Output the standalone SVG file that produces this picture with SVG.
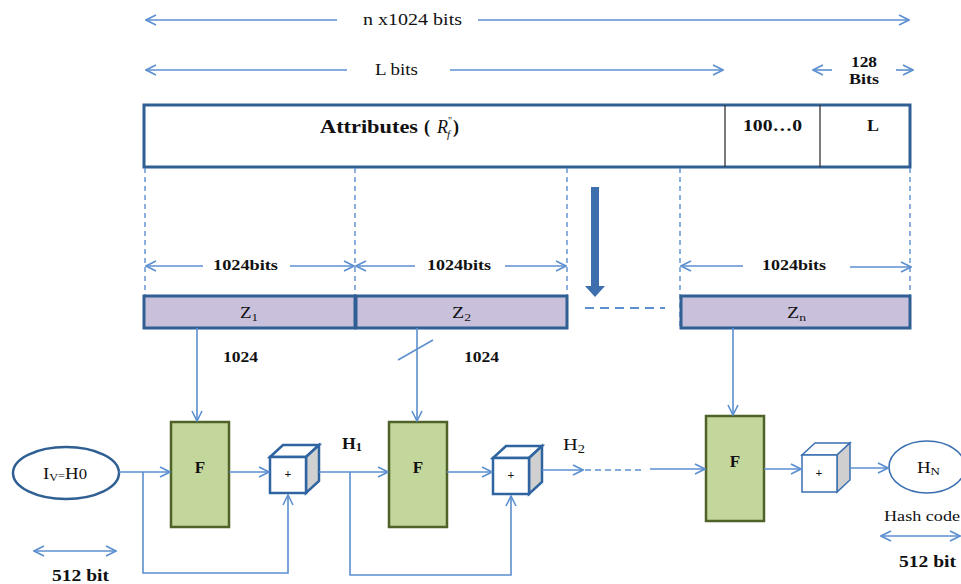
<svg xmlns="http://www.w3.org/2000/svg" width="961" height="584" viewBox="0 0 961 584">
<style>
  text { font-family: "Liberation Serif", "Times New Roman", serif; fill: #111; }
  .b { font-weight: bold; }
  .ln { stroke: #5b8fd0; stroke-width: 1.6; fill: none; }
  .dash { stroke: #5b8fd0; stroke-width: 1.4; fill: none; stroke-dasharray: 5 4; }
  .blk { fill: #c9c0dc; stroke: #2f5f93; stroke-width: 3; }
  .fbox { fill: #c3d69b; stroke: #4f6228; stroke-width: 2.5; }
  .cube { fill: #fff; stroke: #2f64a0; stroke-width: 2.5; }
  .cubeside { fill: #d0d0d0; stroke: #2f64a0; stroke-width: 2.5; }
</style>
<defs>
  <marker id="ah" viewBox="0 0 12 12" refX="11" refY="6" markerWidth="12" markerHeight="12" markerUnits="userSpaceOnUse" orient="auto-start-reverse">
    <path d="M1,1 L11,6 L1,11" fill="none" stroke="#5b8fd0" stroke-width="1.6"/>
  </marker>
</defs>

<!-- size annotations -->
<g id="dims">
  <line class="ln" x1="146" y1="20" x2="337" y2="20" marker-start="url(#ah)"/>
  <line class="ln" x1="478" y1="20" x2="909" y2="20" marker-end="url(#ah)"/>
  <text x="363" y="25" font-size="17" textLength="99" lengthAdjust="spacingAndGlyphs">n x1024 bits</text>
  <line class="ln" x1="146" y1="70" x2="347" y2="70" marker-start="url(#ah)"/>
  <line class="ln" x1="450" y1="70" x2="723" y2="70" marker-end="url(#ah)"/>
  <text x="375" y="75" font-size="17" textLength="43" lengthAdjust="spacingAndGlyphs">L bits</text>
  <line class="ln" x1="813" y1="70" x2="832" y2="70" marker-start="url(#ah)"/>
  <line class="ln" x1="896" y1="70" x2="913" y2="70" marker-end="url(#ah)"/>
  <text class="b" x="851" y="67" font-size="15" textLength="26" lengthAdjust="spacingAndGlyphs">128</text>
  <text class="b" x="849" y="84" font-size="15" textLength="30" lengthAdjust="spacingAndGlyphs">Bits</text>
</g>

<!-- message block -->
<g id="message">
  <rect x="144" y="105" width="766" height="62" fill="#fff" stroke="#2f5f93" stroke-width="3"/>
  <line x1="725" y1="105" x2="725" y2="167" stroke="#333" stroke-width="1.3"/>
  <line x1="820" y1="105" x2="820" y2="167" stroke="#333" stroke-width="1.3"/>
  <text class="b" x="320" y="133" font-size="18" textLength="98" lengthAdjust="spacingAndGlyphs">Attributes</text>
  <text class="b" x="424" y="133" font-size="18">(</text>
  <text x="437" y="133" font-size="18" font-style="italic">R</text>
  <text x="448" y="124" font-size="10">"</text>
  <text x="447" y="138" font-size="11" font-style="italic">f</text>
  <text class="b" x="453" y="133" font-size="18">)</text>
  <text class="b" x="743" y="131" font-size="16" textLength="59" lengthAdjust="spacingAndGlyphs">100…0</text>
  <text class="b" x="867" y="131" font-size="16" textLength="12" lengthAdjust="spacingAndGlyphs">L</text>
</g>

<!-- block division guides -->
<g id="guides">
  <line class="dash" x1="145" y1="168" x2="145" y2="295"/>
  <line class="dash" x1="355" y1="168" x2="355" y2="295"/>
  <line class="dash" x1="567" y1="168" x2="567" y2="295"/>
  <line class="dash" x1="680" y1="168" x2="680" y2="328"/>
  <line class="dash" x1="910" y1="168" x2="910" y2="295"/>
  <line class="ln" x1="146" y1="266" x2="203" y2="266" marker-start="url(#ah)"/>
  <line class="ln" x1="290" y1="266" x2="354" y2="266" marker-end="url(#ah)"/>
  <text class="b" x="213" y="270" font-size="14.5" textLength="65" lengthAdjust="spacingAndGlyphs">1024bits</text>
  <line class="ln" x1="356" y1="266" x2="415" y2="266" marker-start="url(#ah)"/>
  <line class="ln" x1="505" y1="266" x2="566" y2="266" marker-end="url(#ah)"/>
  <text class="b" x="427" y="270" font-size="14.5" textLength="64" lengthAdjust="spacingAndGlyphs">1024bits</text>
  <line class="ln" x1="681" y1="266" x2="743" y2="266" marker-start="url(#ah)"/>
  <line class="ln" x1="850" y1="267" x2="911" y2="267" marker-end="url(#ah)"/>
  <text class="b" x="762" y="270" font-size="14.5" textLength="64" lengthAdjust="spacingAndGlyphs">1024bits</text>
  <path d="M591,187 H599 V286 H605 L595,297 L585,286 H591 Z" fill="#3d6fae"/>
  <line x1="585" y1="308" x2="665" y2="308" stroke="#5b8fd0" stroke-width="2" stroke-dasharray="9 6"/>
</g>

<!-- message blocks Z -->
<g id="z1">
  <rect class="blk" x="144" y="296" width="211" height="32"/>
  <text x="240" y="318" font-size="16" textLength="18" lengthAdjust="spacingAndGlyphs">Z<tspan font-size="11" dy="3">1</tspan></text>
</g>
<g id="z2">
  <rect class="blk" x="356" y="296" width="211" height="32"/>
  <text x="452" y="318" font-size="16" textLength="19" lengthAdjust="spacingAndGlyphs">Z<tspan font-size="11" dy="3">2</tspan></text>
</g>
<g id="zn">
  <rect class="blk" x="681" y="296" width="229" height="32"/>
  <text x="787" y="318" font-size="16" textLength="19" lengthAdjust="spacingAndGlyphs">Z<tspan font-size="11" dy="3">n</tspan></text>
</g>

<!-- compression functions -->
<g id="f1">
  <rect class="fbox" x="171" y="422" width="58" height="105"/>
  <text class="b" x="200" y="473" font-size="17" text-anchor="middle">F</text>
</g>
<g id="f2">
  <rect class="fbox" x="389" y="422" width="58" height="105"/>
  <text class="b" x="418" y="473" font-size="17" text-anchor="middle">F</text>
</g>
<g id="f3">
  <rect class="fbox" x="706" y="416" width="58" height="105"/>
  <text class="b" x="735" y="467" font-size="17" text-anchor="middle">F</text>
</g>

<!-- adders -->
<g id="add1">
  <path class="cube" d="M270,457 L283,445 H319 L306,457 Z"/>
  <path class="cubeside" d="M306,457 L319,445 V481 L306,493 Z"/>
  <rect class="cube" x="270" y="457" width="36" height="36"/>
  <text class="b" x="288" y="478" font-size="12" text-anchor="middle">+</text>
</g>
<g id="add2">
  <path class="cube" d="M493,458 L506,446 H542 L529,458 Z"/>
  <path class="cubeside" d="M529,458 L542,446 V482 L529,494 Z"/>
  <rect class="cube" x="493" y="458" width="36" height="36"/>
  <text class="b" x="511" y="479" font-size="12" text-anchor="middle">+</text>
</g>
<g id="add3">
  <path d="M802,455 L815,443 H850 L837,455 Z" fill="#fff" stroke="#3a6fb0" stroke-width="1.5"/>
  <path d="M837,455 L850,443 V480 L837,492 Z" fill="#cfcfcf" stroke="#3a6fb0" stroke-width="1.5"/>
  <rect x="802" y="455" width="35" height="37" fill="#fff" stroke="#3a6fb0" stroke-width="1.5"/>
  <text class="b" x="819" y="477" font-size="12" text-anchor="middle">+</text>
</g>

<!-- initial value and output -->
<g id="iv">
  <ellipse cx="66" cy="473" rx="53" ry="26" fill="#fff" stroke="#2f5f93" stroke-width="2.5"/>
  <text x="43" y="479" font-size="17" textLength="44" lengthAdjust="spacingAndGlyphs">I<tspan font-size="11" dy="2">V</tspan><tspan dy="-2" font-size="11">=</tspan>H<tspan font-size="15">0</tspan></text>
  <line class="ln" x1="34" y1="551" x2="116" y2="551" marker-start="url(#ah)" marker-end="url(#ah)"/>
  <text class="b" x="52" y="581" font-size="16" textLength="57" lengthAdjust="spacingAndGlyphs">512 bit</text>
</g>
<g id="hn">
  <ellipse cx="927" cy="467" rx="38" ry="26" fill="#fff" stroke="#3a6fb0" stroke-width="1.6"/>
  <text x="917" y="473" font-size="16" textLength="23" lengthAdjust="spacingAndGlyphs">H<tspan font-size="11" dy="2">N</tspan></text>
  <text x="884" y="521" font-size="15" textLength="76" lengthAdjust="spacingAndGlyphs">Hash code</text>
  <line class="ln" x1="881" y1="536" x2="960" y2="536" marker-start="url(#ah)" marker-end="url(#ah)"/>
  <text class="b" x="899" y="567" font-size="16" textLength="57" lengthAdjust="spacingAndGlyphs">512 bit</text>
</g>

<!-- connectors -->
<g id="connectors">
  <line class="ln" x1="197" y1="328" x2="197" y2="421" marker-end="url(#ah)"/>
  <line class="ln" x1="417" y1="328" x2="417" y2="421" marker-end="url(#ah)"/>
  <line class="ln" x1="398" y1="360" x2="433" y2="340"/>
  <line class="ln" x1="733" y1="328" x2="733" y2="415" marker-end="url(#ah)"/>
  <text class="b" x="223" y="362" font-size="15" textLength="35" lengthAdjust="spacingAndGlyphs">1024</text>
  <text class="b" x="464" y="362" font-size="15" textLength="35" lengthAdjust="spacingAndGlyphs">1024</text>

  <line class="ln" x1="119" y1="472" x2="170" y2="472" marker-end="url(#ah)"/>
  <polyline class="ln" points="143,472 143,573 288,573 288,495" marker-end="url(#ah)"/>
  <line class="ln" x1="229" y1="472" x2="269" y2="472" marker-end="url(#ah)"/>

  <line class="ln" x1="319" y1="472" x2="388" y2="472" marker-end="url(#ah)"/>
  <text class="b" x="342" y="449" font-size="17" textLength="20" lengthAdjust="spacingAndGlyphs">H<tspan font-size="12" dy="2">1</tspan></text>
  <polyline class="ln" points="350,472 350,575 511,575 511,496" marker-end="url(#ah)"/>
  <line class="ln" x1="447" y1="472" x2="492" y2="472" marker-end="url(#ah)"/>

  <line class="ln" x1="542" y1="470" x2="583" y2="470" marker-end="url(#ah)"/>
  <text x="563" y="450" font-size="17" textLength="22" lengthAdjust="spacingAndGlyphs">H<tspan font-size="12" dy="3">2</tspan></text>
  <line x1="585" y1="470" x2="645" y2="470" stroke="#5b8fd0" stroke-width="1.6" stroke-dasharray="6 4"/>
  <line class="ln" x1="650" y1="469" x2="705" y2="469" marker-end="url(#ah)"/>
  <line class="ln" x1="764" y1="469" x2="801" y2="469" marker-end="url(#ah)"/>
  <line class="ln" x1="850" y1="468" x2="888" y2="468" marker-end="url(#ah)"/>
</g>
</svg>
